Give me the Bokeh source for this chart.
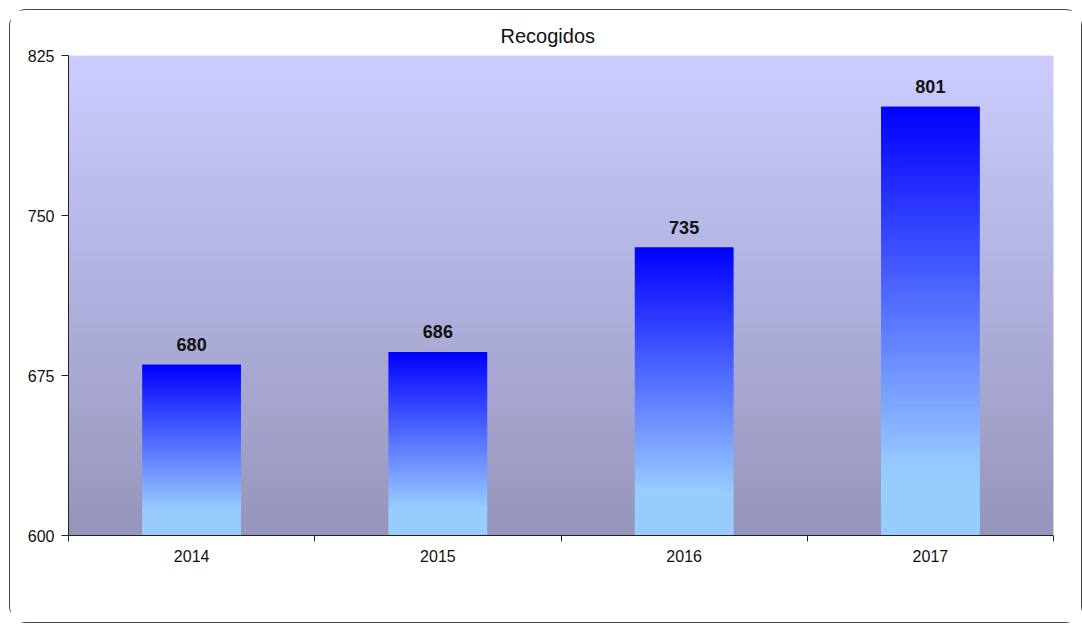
from bokeh.plotting import figure
from bokeh.models import ColumnDataSource, Range1d, FixedTicker
from bokeh.core.properties import value
from bokeh.embed import file_html
from bokeh.resources import INLINE

# ---- data ----
years = ["2014", "2015", "2016", "2017"]
recogidos = [680, 686, 735, 801]
y_ticks = [600, 675, 750, 825]
title_text = "Recogidos"

FONT = "Liberation Sans"
y_min, y_max = y_ticks[0], y_ticks[-1]

p = figure(width=1071, height=612, output_backend="svg", toolbar_location=None,
           x_range=Range1d(0, len(years)), y_range=Range1d(y_min, y_max),
           min_border_left=58, min_border_right=28, min_border_top=45, min_border_bottom=87,
           title=title_text)
p.styles = {"margin-left": "10px", "margin-top": "10px",
            "outline": "1.5px solid #444", "border-radius": "16px"}
p.background_fill_color = "white"
p.border_fill_color = "white"
p.outline_line_color = None
p.grid.visible = False

p.title.align = "left"
p.title.offset = 432
p.title.text_font = FONT
p.title.text_font_size = "20px"
p.title.text_font_style = "normal"
p.title.text_color = "#111111"
p.title.standoff = 18

# ---- background gradient (lavender -> grey-purple) ----
def lerp(c1, c2, s):
    return "#%02x%02x%02x" % tuple(int(round(a + (b - a) * s)) for a, b in zip(c1, c2))

top_c, bot_c = (204, 204, 255), (149, 149, 187)
N = 200
step = (y_max - y_min) / N
bg = dict(left=[], right=[], bottom=[], top=[], color=[])
for k in range(N):
    b = y_min + k * step
    t = min(b + 2 * step, y_max)
    s = 1 - (b + step / 2 - y_min) / (y_max - y_min)
    bg["left"].append(0); bg["right"].append(len(years))
    bg["bottom"].append(b); bg["top"].append(t)
    bg["color"].append(lerp(top_c, bot_c, s))
p.quad(left="left", right="right", bottom="bottom", top="top", fill_color="color",
       line_color=None, source=ColumnDataSource(bg))

# ---- bars with vertical gradient ----
xs = [i + 0.5 for i in range(len(years))]
bar_top_c, bar_bot_c = (0, 0, 255), (153, 204, 255)
M = 160
bars = dict(x=[], bottom=[], top=[], color=[])
for x, v in zip(xs, recogidos):
    h = (v - y_min) / M
    for k in range(M):
        b = y_min + k * h
        tt = min(b + 2 * h, v)
        t_rel = (v - (b + h / 2)) / (v - y_min)
        s = min(t_rel / 0.85, 1.0)
        bars["x"].append(x); bars["bottom"].append(b); bars["top"].append(tt)
        bars["color"].append(lerp(bar_top_c, bar_bot_c, s))
p.vbar(x="x", width=0.4, bottom="bottom", top="top", fill_color="color",
       line_color=None, source=ColumnDataSource(bars))

# ---- value labels ----
lab = ColumnDataSource(dict(x=xs, y=recogidos, t=[str(v) for v in recogidos]))
p.text(x="x", y="y", text="t", source=lab, text_align="center", text_baseline="bottom",
       y_offset=-14, text_font=value(FONT), text_font_size="18px", text_font_style="bold",
       text_color="#111111")

# ---- axes ----
p.xaxis.ticker = FixedTicker(ticks=xs, minor_ticks=list(range(len(years) + 1)))
p.xaxis.major_label_overrides = {x: y for x, y in zip(xs, years)}
p.xaxis.major_tick_out = 0
p.xaxis.major_tick_in = 0
p.xaxis.minor_tick_out = 6
p.xaxis.minor_tick_in = 0
p.xaxis.major_label_standoff = 8

p.yaxis.ticker = FixedTicker(ticks=y_ticks, minor_ticks=[])
p.yaxis.major_tick_out = 7
p.yaxis.major_tick_in = 0
p.yaxis.minor_tick_out = 0
p.yaxis.major_label_standoff = 7

for ax in (p.xaxis, p.yaxis):
    ax.axis_line_color = "#222222"
    ax.major_tick_line_color = "#222222"
    ax.minor_tick_line_color = "#222222"
    ax.major_label_text_font = FONT
    ax.major_label_text_font_size = "16px"
    ax.major_label_text_color = "#111111"

open("out.html", "w").write(file_html(p, INLINE))
